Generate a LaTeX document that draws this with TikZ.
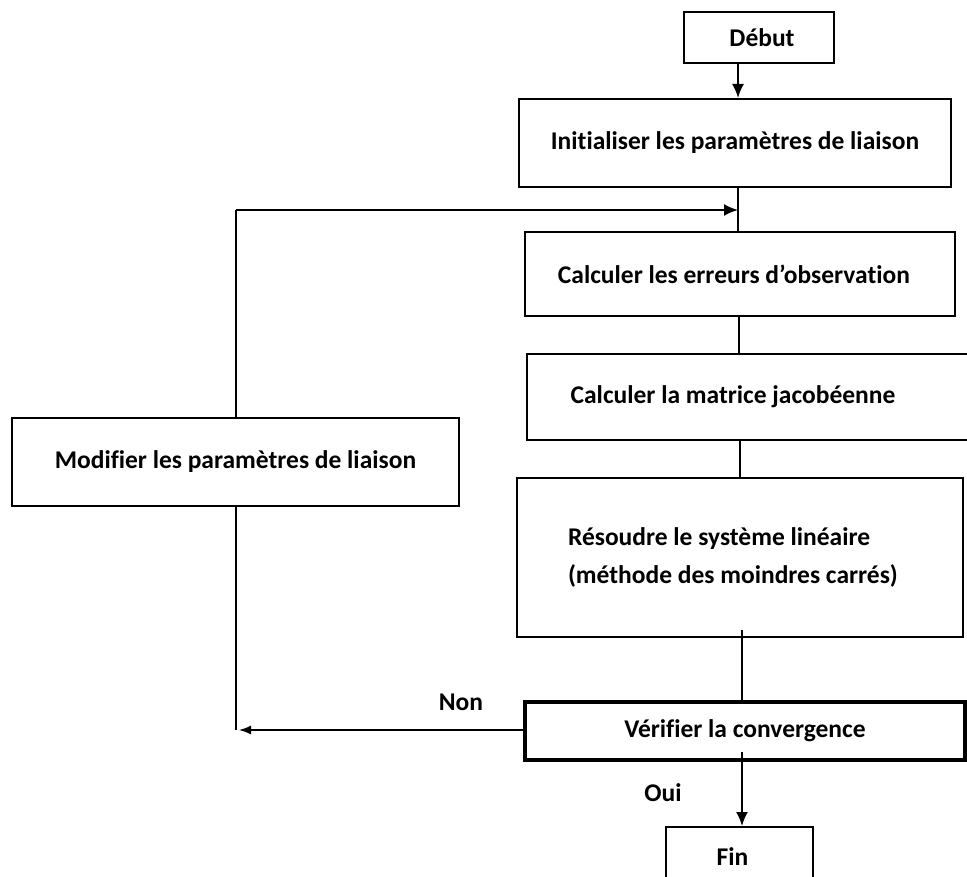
\documentclass[tikz,border=0pt]{standalone}
\usepackage{fontspec}
\setmainfont{Carlito}[Ligatures={ResetAll,NoCommon}]
\usetikzlibrary{arrows.meta}
\begin{document}
\begin{tikzpicture}[x=1pt,y=-1pt,
  box/.style={draw, line width=2pt, inner sep=0pt, font=\fontsize{25.5}{38}\selectfont\bfseries},
  conn/.style={line width=2pt},
  arr/.style={line width=2pt, -{Latex[length=14pt,width=12pt]}},
  lbl/.style={font=\fontsize{25.5}{30}\selectfont\bfseries, inner sep=0pt}]
\useasboundingbox (0,0) rectangle (967,877);
\clip (0,0) rectangle (967,877);
\fill[white] (0,0) rectangle (967,877);
% nodes
\node[box, minimum width=150pt, minimum height=51pt] (debut) at (759,37.5) {\hspace*{6pt}Début};
\node[box, minimum width=432pt, minimum height=88pt] (init) at (735,143) {Initialiser les paramètres de liaison};
\node[box, minimum width=430pt, minimum height=84pt] (err) at (740,274) {\hspace*{-12pt}Calculer les erreurs d'observation};
\node[box, minimum width=460pt, minimum height=86pt, anchor=west] (jac) at (526,397) {\hspace*{-48pt}Calculer la matrice jacobéenne};
\node[box, minimum width=446pt, minimum height=159pt, text width=446pt, align=flush left] (res) at (740,557.5) {\hspace*{51pt}Résoudre le système linéaire\\\hspace*{51pt}(méthode des moindres carrés)};
\node[box, line width=4.5pt, minimum width=440pt, minimum height=58pt] (verif) at (745,731) {Vérifier la convergence};
\node[box, minimum width=147pt, minimum height=60pt] (fin) at (739.5,857) {\hspace*{-14pt}Fin};
\node[box, minimum width=447pt, minimum height=88pt] (modif) at (235.5,462) {Modifier les paramètres de liaison};
% coordinates
\coordinate (j) at (738,210);
\coordinate (c1) at (236,210);
\coordinate (c2) at (236,730);
\coordinate (v) at (742,700);
% labels
\node[lbl] (non) at (461,702) {Non};
\node[lbl] (oui) at (663,793) {Oui};
% connectors
\draw[arr] (j |- debut.south) -- (j |- init.north);
\draw[conn] (j |- init.south) -- (j |- err.north);
\draw[conn] (modif.north -| c1) -- (c1);
\draw[arr] (c1) -- (j);
\draw[conn] (739,316) -- (jac.north -| 739,0) ;
\draw[conn] (740,441) -- (res.north -| 740,0);
\draw[conn] ([yshift=8pt]res.south -| v) -- (verif.north -| v);
\draw[arr] ([yshift=10pt]verif.south -| v) -- (fin.north -| v);
\draw[conn] (modif.south -| c2) -- (c2);
\draw[line width=1.5pt, -{Latex[length=12pt,width=9pt]}] (verif.west |- c2) -- ([xshift=3pt]c2);
\end{tikzpicture}
\end{document}
